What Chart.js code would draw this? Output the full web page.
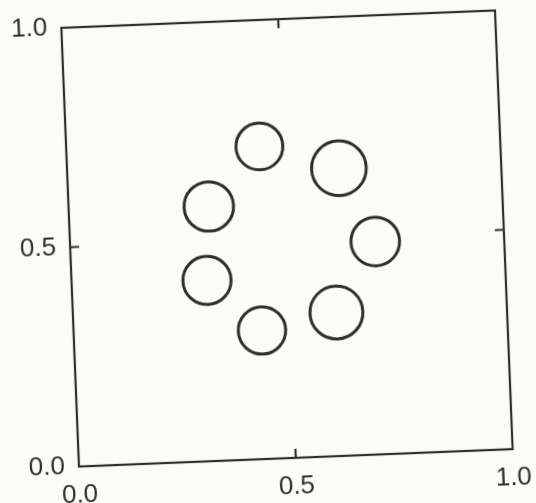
<!DOCTYPE html>
<html>
<head>
<meta charset="utf-8">
<script src="https://cdn.jsdelivr.net/npm/chart.js@4"></script>
<style>
  html, body { margin: 0; padding: 0; background: #fcfcf7; overflow: hidden; }
  #wrap { width: 536px; height: 503px; }
  /* the printed frame sits a little off square on the page */
  #ringChart { transform: rotate(-2.3deg); transform-origin: 287px 239px; }
</style>
</head>
<body>
<div id="wrap"><canvas id="ringChart" width="536" height="503"></canvas></div>
<script>
document.addEventListener("DOMContentLoaded", function () {
  // ring of seven circles: centre x, centre y, radius (axis units)
  const ringX = [0.445, 0.626, 0.323, 0.703, 0.312, 0.434, 0.607];
  const ringY = [0.712, 0.655, 0.580, 0.485, 0.412, 0.293, 0.327];
  const ringR = [0.054, 0.063, 0.057, 0.056, 0.0555, 0.0546, 0.061];

  const tickValues = [0.0, 0.5, 1.0];
  const innerTicks = [0.5];

  const ink = "#2e2e2e";
  const labelFont = { family: "'Liberation Sans', Arial, sans-serif", size: 26 };

  const points = ringX.map((x, i) => ({ x: x, y: ringY[i] }));

  // radius in pixels from the x scale so circles stay in axis units
  function radiusPx(ctx) {
    const sx = ctx.chart.scales.x;
    if (!sx) return 20;
    return sx.getPixelForValue(ringR[ctx.dataIndex]) - sx.getPixelForValue(0);
  }

  // box round the plot plus short inward ticks on every side
  const frameTicks = {
    id: "frameTicks",
    afterDraw(chart) {
      const c = chart.ctx;
      const a = chart.chartArea;
      const sx = chart.scales.x;
      const sy = chart.scales.y;
      const len = 9;
      c.save();
      c.strokeStyle = ink;
      c.lineWidth = 2.2;
      c.strokeRect(a.left, a.top, a.right - a.left, a.bottom - a.top);
      c.beginPath();
      innerTicks.forEach(v => {
        const px = sx.getPixelForValue(v);
        c.moveTo(px, a.bottom); c.lineTo(px, a.bottom - len);
        c.moveTo(px, a.top); c.lineTo(px, a.top + len);
        const py = sy.getPixelForValue(v);
        c.moveTo(a.left, py); c.lineTo(a.left + len, py);
        c.moveTo(a.right, py); c.lineTo(a.right - len, py);
      });
      c.stroke();
      c.restore();
    }
  };

  new Chart(document.getElementById("ringChart").getContext("2d"), {
    type: "scatter",
    data: {
      datasets: [{
        data: points,
        pointStyle: "circle",
        pointRadius: radiusPx,
        pointHoverRadius: radiusPx,
        backgroundColor: "rgba(0,0,0,0)",
        borderColor: ink,
        borderWidth: 3,
        pointHoverBorderWidth: 3
      }]
    },
    options: {
      responsive: false,
      animation: false,
      events: [],
      layout: { padding: { top: 19, right: 32, left: 0, bottom: 0 } },
      plugins: { legend: { display: false }, tooltip: { enabled: false } },
      scales: {
        x: {
          type: "linear",
          min: 0, max: 1,
          afterBuildTicks: s => { s.ticks = tickValues.map(v => ({ value: v })); },
          afterFit: s => { s.height = 45; s.paddingLeft = 0; s.paddingRight = 0; },
          grid: { display: false, drawTicks: false },
          border: { display: false },
          ticks: {
            color: ink, font: labelFont, padding: 13, maxRotation: 0,
            callback: v => Number(v).toFixed(1)
          }
        },
        y: {
          type: "linear",
          min: 0, max: 1,
          afterBuildTicks: s => { s.ticks = tickValues.map(v => ({ value: v })); },
          afterFit: s => { s.width = 70; s.paddingTop = 0; s.paddingBottom = 0; },
          grid: { display: false, drawTicks: false },
          border: { display: false },
          ticks: {
            color: ink, font: labelFont, padding: 14,
            callback: v => Number(v).toFixed(1)
          }
        }
      }
    },
    plugins: [frameTicks]
  });
});
</script>
</body>
</html>
